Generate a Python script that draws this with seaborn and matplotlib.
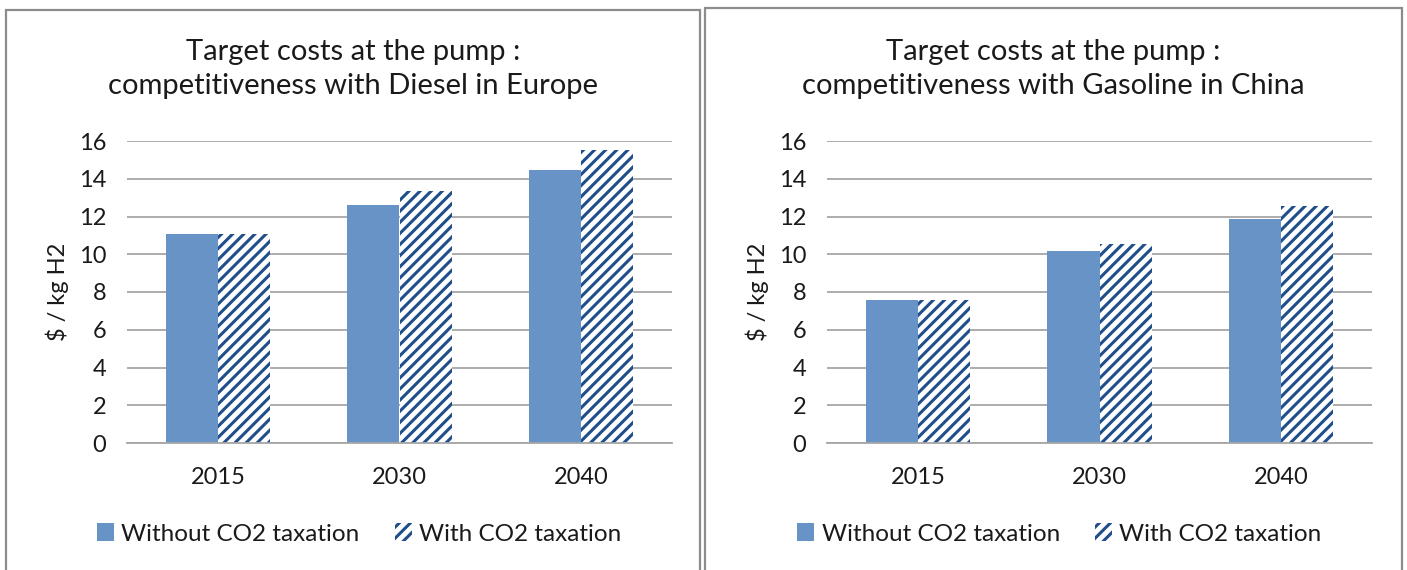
import pandas as pd
import matplotlib
matplotlib.use('Agg')
import matplotlib.pyplot as plt
from matplotlib.patches import Patch, Rectangle
import seaborn as sns

years = ['2015', '2030', '2040']
series_names = ['Without CO2 taxation', 'With CO2 taxation']

europe_without = [11.05, 12.6, 14.45]
europe_with = [11.05, 13.35, 15.5]
china_without = [7.6, 10.15, 11.85]
china_with = [7.6, 10.55, 12.55]

titles = ['Target costs at the pump :\ncompetitiveness with Diesel in Europe',
          'Target costs at the pump :\ncompetitiveness with Gasoline in China']
y_label = '$ / kg H2'
y_ticks = [0, 2, 4, 6, 8, 10, 12, 14, 16]

SOLID = '#6793C6'
HATCH = '#1F4E8A'
GRID = '#A6A6A6'
TEXT = '#1A1A1A'

sns.set_style('white')
plt.rcParams['font.family'] = ['Lato', 'DejaVu Sans']
plt.rcParams['hatch.linewidth'] = 2.2


def make_df(without, with_tax):
    rows = []
    for y, a, b in zip(years, without, with_tax):
        rows.append({'Year': y, 'Series': series_names[0], 'Cost': a})
        rows.append({'Year': y, 'Series': series_names[1], 'Cost': b})
    return pd.DataFrame(rows)


W, H = 1407, 570
fig = plt.figure(figsize=(W / 100, H / 100), dpi=100)

# grey frames around each chart (open at the bottom, as in the screenshot)
panels = [(6, 10, 694), (705, 8, 697)]
for px, py, pw in panels:
    fig.add_artist(Rectangle((px / W, -0.05), pw / W, 1 - py / H + 0.05,
                             transform=fig.transFigure, fill=False,
                             edgecolor='#8C8C8C', lw=1.6))

data = [make_df(europe_without, europe_with), make_df(china_without, china_with)]
offsets = [0, 700]

for i, df in enumerate(data):
    x0 = 127 + offsets[i]
    ax = fig.add_axes([x0 / W, 1 - 443 / H, 545 / W, (443 - 141) / H])
    sns.barplot(data=df, x='Year', y='Cost', hue='Series', order=years,
                hue_order=series_names, palette=[SOLID, SOLID], width=0.575,
                saturation=1, legend=False, ax=ax, zorder=3)
    for bar in ax.containers[1]:
        bar.set_facecolor('white')
        bar.set_edgecolor(HATCH)
        bar.set_linewidth(0)
        bar.set_hatch('///')
    for bar in ax.containers[0]:
        bar.set_linewidth(0)

    ax.set_ylim(0, 16)
    ax.set_xlim(-0.5, 2.5)
    ax.set_yticks(y_ticks)
    ax.yaxis.grid(True, color=GRID, lw=1.3, zorder=0)
    ax.set_axisbelow(True)
    for s in ['left', 'right', 'top']:
        ax.spines[s].set_visible(False)
    ax.spines['bottom'].set_color(GRID)
    ax.spines['bottom'].set_linewidth(1.3)
    ax.spines['bottom'].set_zorder(4)

    ax.set_xticks([-0.5, 0.5, 1.5, 2.5], minor=True)
    ax.tick_params(axis='x', which='minor', length=7, width=1.3, color=GRID)
    ax.tick_params(axis='x', which='major', length=0, pad=17, labelsize=17, labelcolor=TEXT)
    ax.tick_params(axis='y', length=0, pad=15, labelsize=17, labelcolor=TEXT)
    ax.set_xlabel('')
    ax.set_ylabel(y_label, fontsize=17, color=TEXT, labelpad=7)

    cx = (panels[i][0] + panels[i][2] / 2) / W
    fig.text(cx, 1 - 69 / H, titles[i], ha='center', va='center',
             fontsize=21, color=TEXT, linespacing=1.37)

    handles = [Patch(facecolor=SOLID, lw=0),
               Patch(facecolor='white', edgecolor=HATCH, hatch='///', lw=0)]
    fig.legend(handles, series_names, loc='center', bbox_to_anchor=(cx + 6 / W, 1 - 534 / H),
               ncol=2, frameon=False, fontsize=17.5, handlelength=0.7, handleheight=0.7,
               handletextpad=0.3, columnspacing=1.44, labelcolor=TEXT)

fig.savefig('out.png', dpi=100)
